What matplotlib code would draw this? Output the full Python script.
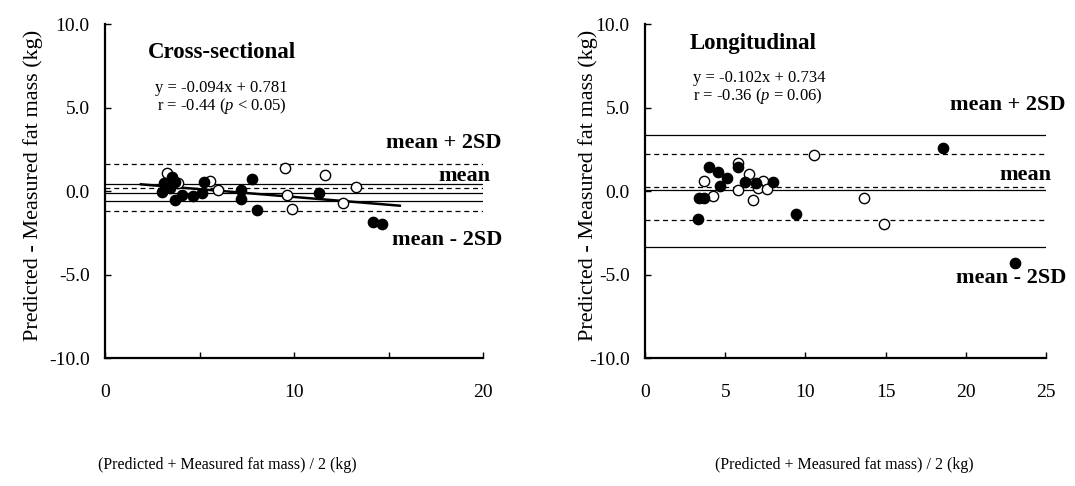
import matplotlib
matplotlib.use('Agg')
import matplotlib.pyplot as plt

plt.rcParams['font.family'] = ['Liberation Serif', 'DejaVu Serif']
plt.rcParams['mathtext.fontset'] = 'custom'
plt.rcParams['mathtext.rm'] = 'Liberation Serif'
plt.rcParams['mathtext.it'] = 'Liberation Serif:italic'

# ---------------- data ----------------
# Cross-sectional
cs_open_x = [3.26, 3.88, 5.57, 5.96, 9.55, 9.61, 9.89, 11.64, 12.61, 13.26]
cs_open_y = [1.06, 0.46, 0.57, 0.06, 1.36, -0.24, -1.08, 0.96, -0.70, 0.26]
cs_fill_x = [3.57, 3.12, 3.00, 3.70, 4.10, 4.67, 5.15, 5.25, 7.20, 7.20, 7.76, 8.04, 11.34, 14.16, 14.64, 3.44, 3.70]
cs_fill_y = [0.81, 0.46, -0.04, -0.54, -0.24, -0.30, -0.12, 0.54, 0.06, -0.50, 0.71, -1.14, -0.14, -1.87, -1.99, 0.18, 0.56]
cs_dashed = [1.62, 0.18, -1.20]
cs_solid = [0.42, -0.12, -0.60]
cs_reg_x = [1.9, 15.6]
cs_reg_y = [0.40, -0.88]

# Longitudinal
lg_open_x = [10.56, 5.82, 6.50, 3.68, 7.34, 5.82, 7.06, 7.59, 4.26, 6.75, 13.65, 14.90]
lg_open_y = [2.16, 1.66, 1.02, 0.60, 0.60, 0.06, 0.16, 0.12, -0.30, -0.54, -0.44, -1.98]
lg_fill_x = [18.56, 4.01, 4.57, 5.09, 5.82, 4.68, 6.23, 6.92, 7.96, 3.37, 3.68, 3.32, 9.41, 23.07]
lg_fill_y = [2.56, 1.42, 1.16, 0.76, 1.46, 0.30, 0.56, 0.50, 0.52, -0.44, -0.44, -1.69, -1.38, -4.29]
lg_dashed = [2.22, 0.24, -1.74]
lg_solid = [3.35, 0.06, -3.35]

y_ticks = [-10, -5, 0, 5, 10]
cs_xticks = [0, 5, 10, 15, 20]
cs_xlabels = ['0', '', '10', '', '20']
lg_xticks = [0, 5, 10, 15, 20, 25]
lg_xlabels = ['0', '5', '10', '15', '20', '25']

ylabel = 'Predicted - Measured fat mass (kg)'
xlabel = '(Predicted + Measured fat mass) / 2 (kg)'

# ---------------- figure ----------------
W, H = 1075, 486
fig = plt.figure(figsize=(W / 100, H / 100), dpi=100)


def rect(x0, x1, y0, y1):
    return [x0 / W, 1 - y1 / H, (x1 - x0) / W, (y1 - y0) / H]


def fx(px):
    return px / W


def fy(py):
    return 1 - py / H


def style(ax, xmax, xticks, xlabels):
    ax.set_xlim(0, xmax)
    ax.set_ylim(-10, 10)
    ax.set_yticks(y_ticks)
    ax.set_yticklabels(['%.1f' % v for v in y_ticks])
    ax.set_xticks(xticks)
    ax.set_xticklabels(xlabels)
    for s in ['top', 'right']:
        ax.spines[s].set_visible(False)
    for s in ['left', 'bottom']:
        ax.spines[s].set_linewidth(1.6)
    ax.tick_params(axis='both', direction='in', length=4, width=1, labelsize=14)
    ax.tick_params(axis='y', pad=11)
    ax.tick_params(axis='x', pad=19)


def draw(ax, xmax, ox, oy, fxs, fys, dashed, solid):
    for v in dashed:
        ax.plot([0, xmax], [v, v], color='black', lw=0.9, ls=(0, (4, 3)), zorder=1)
    for v in solid:
        ax.plot([0, xmax], [v, v], color='black', lw=0.9, zorder=1)
    ax.scatter(ox, oy, s=55, facecolor='white', edgecolor='black', linewidths=1.0, zorder=3)
    ax.scatter(fxs, fys, s=55, facecolor='black', edgecolor='black', linewidths=1.0, zorder=4)


axL = fig.add_axes(rect(105, 483, 24, 358))
axR = fig.add_axes(rect(645, 1046, 24, 358))

draw(axL, 20, cs_open_x, cs_open_y, cs_fill_x, cs_fill_y, cs_dashed, cs_solid)
axL.plot(cs_reg_x, cs_reg_y, color='black', lw=1.8, zorder=2)
style(axL, 20, cs_xticks, cs_xlabels)

draw(axR, 25, lg_open_x, lg_open_y, lg_fill_x, lg_fill_y, lg_dashed, lg_solid)
style(axR, 25, lg_xticks, lg_xlabels)

# axis titles
fig.text(fx(33), fy(185), ylabel, rotation=90, ha='center', va='center', fontsize=16)
fig.text(fx(588), fy(185), ylabel, rotation=90, ha='center', va='center', fontsize=16)
fig.text(fx(227), fy(465), xlabel, ha='center', va='center', fontsize=11.5)
fig.text(fx(844), fy(465), xlabel, ha='center', va='center', fontsize=11.5)

# panel titles and statistics
fig.text(fx(148), fy(52), 'Cross-sectional', ha='left', va='center', fontsize=16.5, fontweight='bold')
fig.text(fx(155), fy(88), 'y = -0.094x + 0.781', ha='left', va='center', fontsize=12)
fig.text(fx(157), fy(106), r'r = -0.44 ($p$ < 0.05)', ha='left', va='center', fontsize=12)

fig.text(fx(690), fy(43), 'Longitudinal', ha='left', va='center', fontsize=16.5, fontweight='bold')
fig.text(fx(693), fy(78), 'y = -0.102x + 0.734', ha='left', va='center', fontsize=12)
fig.text(fx(693), fy(96), r'r = -0.36 ($p$ = 0.06)', ha='left', va='center', fontsize=12)

# line labels
fig.text(fx(502), fy(143), 'mean + 2SD', ha='right', va='center', fontsize=16, fontweight='bold')
fig.text(fx(490), fy(176), 'mean', ha='right', va='center', fontsize=16, fontweight='bold')
fig.text(fx(502), fy(240), 'mean - 2SD', ha='right', va='center', fontsize=16, fontweight='bold')

fig.text(fx(1066), fy(105), 'mean + 2SD', ha='right', va='center', fontsize=16, fontweight='bold')
fig.text(fx(1051), fy(175), 'mean', ha='right', va='center', fontsize=16, fontweight='bold')
fig.text(fx(1066), fy(278), 'mean - 2SD', ha='right', va='center', fontsize=16, fontweight='bold')

fig.savefig('out.png', dpi=100, facecolor='white')
